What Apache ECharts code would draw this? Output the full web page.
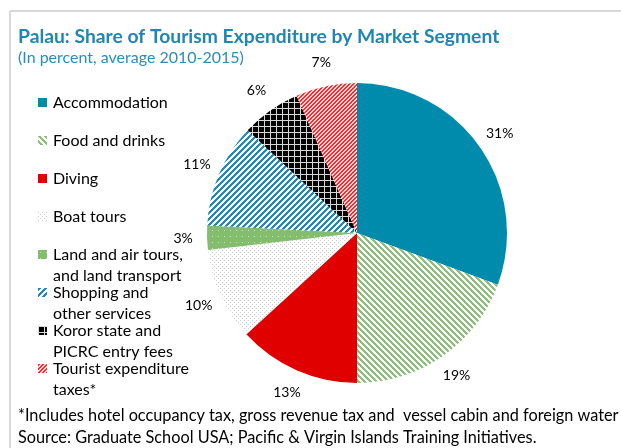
<!DOCTYPE html>
<html>
<head>
<meta charset="utf-8">
<script src="https://cdn.jsdelivr.net/npm/echarts@6/dist/echarts.min.js"></script>
<style>
html,body{margin:0;padding:0;background:#fff;}
#main{width:621px;height:448px;}
</style>
</head>
<body>
<div id="main"></div>
<script>
const categories = [
  "Accommodation",
  "Food and drinks",
  "Diving",
  "Boat tours",
  "Land and air tours,\nand land transport",
  "Shopping and\nother services",
  "Koror state and\nPICRC entry fees",
  "Tourist expenditure\ntaxes*"
];
const shares = [30.6, 19.4, 13.2, 10.0, 2.6, 11.2, 6.4, 6.6];

const FONT = 'Lato';

function pattern(size, bg, fg, test) {
  const c = document.createElement('canvas');
  c.width = size; c.height = size;
  const ctx = c.getContext('2d');
  ctx.fillStyle = bg; ctx.fillRect(0, 0, size, size);
  ctx.fillStyle = fg;
  for (let y = 0; y < size; y++) for (let x = 0; x < size; x++) {
    if (test(x, y)) ctx.fillRect(x, y, 1, 1);
  }
  return { image: c, repeat: 'repeat' };
}

const fills = [
  '#008BAD',
  pattern(6, '#ffffff', '#8CC07A', (x, y) => ((x - y + 60) % 6) < 3),
  '#E00000',
  pattern(4, '#ffffff', '#CFCFCF', (x, y) => (x === 0 && y === 0) || (x === 2 && y === 2)),
  pattern(6, '#85BD6E', '#C9E3BD', (x, y) => x === 2 && y === 2),
  pattern(6, '#ffffff', '#1A8CC0', (x, y) => ((x + y) % 6) < 3),
  pattern(6, '#000000', '#D8D8D8', (x, y) => x === 0 || y === 0),
  pattern(4, '#FFD6D6', '#F03030', (x, y) => ((x + y) % 4) < 2)
];

const data = categories.map((name, i) => ({
  name: name,
  value: shares[i],
  itemStyle: { color: fills[i] }
}));

const chart = echarts.init(document.getElementById('main'), null, { renderer: 'canvas' });
chart.setOption({
  animation: false,
  backgroundColor: '#ffffff',
  title: [
    {
      text: 'Palau: Share of Tourism Expenditure by Market Segment',
      subtext: '(In percent, average 2010-2015)',
      left: 13,
      top: 22,
      itemGap: 4,
      textStyle: { fontFamily: FONT, fontSize: 19.3, fontWeight: 'bold', color: '#1E87B3' },
      subtextStyle: { fontFamily: FONT, fontSize: 16, color: '#2A8DBA' }
    },
    {
      text: '*Includes hotel occupancy tax, gross revenue tax and  vessel cabin and foreign water',
      subtext: 'Source: Graduate School USA; Pacific & Virgin Islands Training Initiatives.',
      left: 13,
      top: 403,
      itemGap: 6,
      textStyle: { fontFamily: FONT, fontSize: 16.3, fontWeight: 'normal', color: '#000' },
      subtextStyle: { fontFamily: FONT, fontSize: 16.3, color: '#000' }
    }
  ],
  legend: {
    orient: 'vertical',
    left: 33,
    top: 66,
    itemWidth: 9,
    itemHeight: 9,
    itemGap: -25,
    icon: 'rect',
    selectedMode: false,
    formatter: function (name) {
      return ' \n' + (name.indexOf('\n') >= 0 ? name : name + '\n ');
    },
    textStyle: {
      fontFamily: FONT, fontSize: 16, color: '#000',
      lineHeight: 21, padding: [0, 0, 0, 1]
    },
    data: categories
  },
  graphic: [
    { type: 'line', shape: { x1: 10, y1: 11, x2: 621, y2: 11 }, style: { stroke: '#D9D9D9', lineWidth: 2 }, silent: true },
    { type: 'line', shape: { x1: 10, y1: 11, x2: 10, y2: 448 }, style: { stroke: '#D9D9D9', lineWidth: 2 }, silent: true }
  ],
  series: [{
    type: 'pie',
    center: [357, 233],
    radius: 150,
    startAngle: 90,
    clockwise: true,
    avoidLabelOverlap: false,
    label: {
      show: true,
      position: 'outside',
      formatter: function (p) { return Math.round(p.value) + '%'; },
      fontFamily: FONT,
      fontSize: 14,
      color: '#000'
    },
    labelLine: { show: true, length: 24, length2: 0, lineStyle: { opacity: 0, width: 0 } },
    labelLayout: function (params) {
      const pts = params.labelLinePoints;
      if (!pts) return {};
      return { x: pts[1][0], y: pts[1][1], align: 'center', verticalAlign: 'middle' };
    },
    itemStyle: { borderWidth: 0 },
    emphasis: { disabled: true },
    data: data
  }]
});
</script>
</body>
</html>
